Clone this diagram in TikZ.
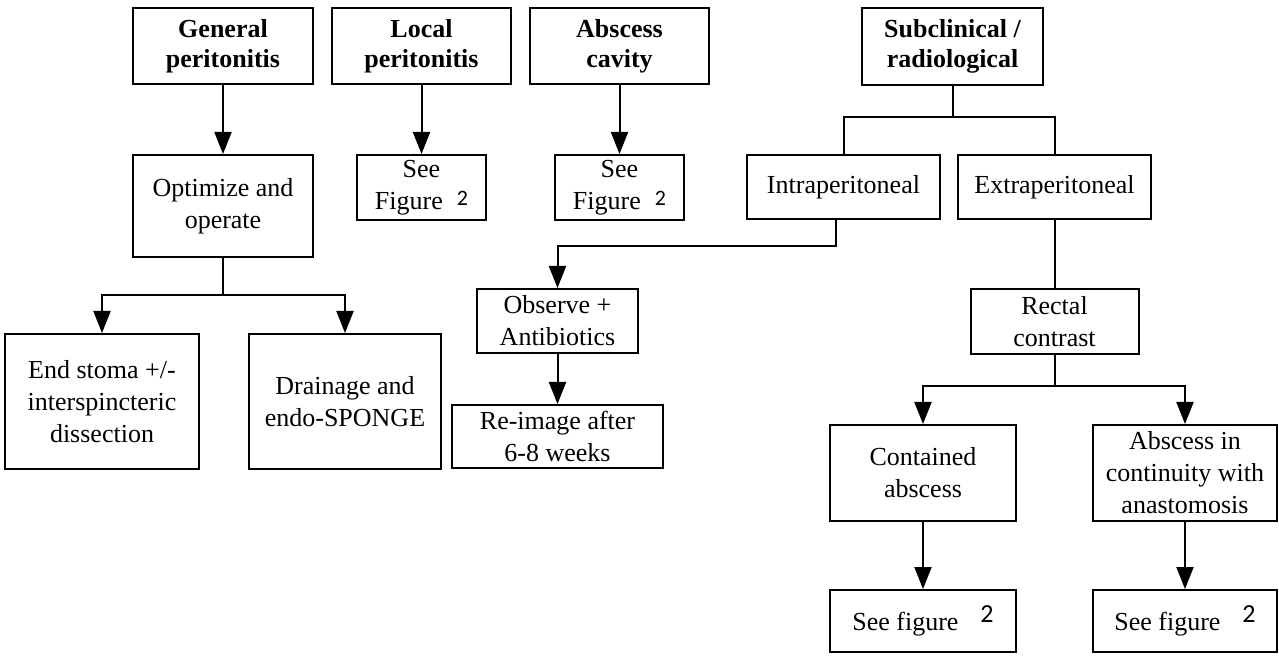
\documentclass[tikz,border=0pt]{standalone}
\usepackage{fontspec}
\setmainfont{Liberation Serif}
\newfontfamily\numfont{Carlito}
\usetikzlibrary{arrows.meta}

\newcommand{\fignum}[2]{\raisebox{#2}{\numfont\fontsize{#1}{#1}\selectfont 2}}

\begin{document}
\begin{tikzpicture}[x=0.5pt,y=-0.5pt,
    box/.style={draw, line width=1pt, align=center, inner sep=0pt,
        font=\fontsize{13}{16}\selectfont},
    head/.style={box, font=\fontsize{13}{15}\selectfont\bfseries},
    arr/.style={line width=1pt, -{Triangle[length=11pt,width=8.5pt]}},
    conn/.style={line width=1pt}]
  \useasboundingbox (0,0) rectangle (1279,657);

  \node (gen) [head, minimum width=90pt, minimum height=38pt] at (223,46) {General\\peritonitis};
  \node (loc) [head, minimum width=89.5pt, minimum height=38pt] at (421.5,46) {Local\\peritonitis};
  \node (cav) [head, minimum width=89.5pt, minimum height=38pt] at (619.5,46) {Abscess\\cavity};
  \node (sub) [head, minimum width=90.5pt, minimum height=38.5pt] at (952.5,46.5) {Subclinical /\\radiological};

  \node (opt) [box, minimum width=90pt, minimum height=51pt] at (223,206) {Optimize and\\operate};
  \node (seeloc) [box, minimum width=64.5pt, minimum height=32.5pt] at (421.5,187.5) {See\\Figure\hspace{7pt}\fignum{11}{2pt}};
  \node (seecav) [box, minimum width=64.5pt, minimum height=32.5pt] at (619.5,187.5) {See\\Figure\hspace{7pt}\fignum{11}{2pt}};
  \node (intra) [box, minimum width=96.5pt, minimum height=32pt] at (843.5,187) {Intraperitoneal};
  \node (extra) [box, minimum width=96.5pt, minimum height=32pt] at (1054.5,187) {Extraperitoneal};

  \node (stoma) [box, minimum width=97pt, minimum height=67.5pt] at (102,401.5) {End stoma +/-\\interspincteric\\dissection};
  \node (drain) [box, minimum width=96pt, minimum height=67.5pt] at (345,401.5) {Drainage and\\endo-SPONGE};
  \node (obs) [box, minimum width=80.5pt, minimum height=32pt] at (557.5,321) {Observe +\\Antibiotics};
  \node (reimg) [box, minimum width=105.5pt, minimum height=31.5pt] at (557.5,436.5) {Re-image after\\6-8 weeks};
  \node (rect) [box, minimum width=84pt, minimum height=32.5pt] at (1054.5,321.5) {Rectal\\contrast};

  \node (cont) [box, minimum width=93pt, minimum height=48pt] at (923,473) {Contained\\abscess};
  \node (anas) [box, minimum width=92pt, minimum height=48pt] at (1185,473) {Abscess in\\continuity with\\anastomosis};
  \node (seecont) [box, minimum width=93pt, minimum height=31pt] at (923,621) {See figure\hspace{11pt}\fignum{13}{4pt}};
  \node (seeanas) [box, minimum width=92pt, minimum height=31pt] at (1185,621) {See figure\hspace{11pt}\fignum{13}{4pt}};

  \coordinate (optsplit) at (223,295);
  \coordinate (subsplit) at (952.5,117);
  \coordinate (rectsplit) at (1054.5,386);

  \draw[arr] (gen) -- (opt);
  \draw[arr] (loc) -- (seeloc);
  \draw[arr] (cav) -- (seecav);

  \draw[conn] (opt) -- (optsplit);
  \draw[arr] (optsplit) -| (stoma);
  \draw[arr] (optsplit) -| (drain);

  \draw[conn] (sub) -- (subsplit);
  \draw[conn] (intra.north) |- (subsplit) -| (extra.north);

  \draw[arr] ([xshift=-3.75pt]intra.south) -- ++(0,26) -| (obs);
  \draw[arr] (obs) -- (reimg);

  \draw[conn] (extra) -- (rect);
  \draw[conn] (rect) -- (rectsplit);
  \draw[arr] (rectsplit) -| (cont);
  \draw[arr] (rectsplit) -| (anas);
  \draw[arr] (cont) -- (seecont);
  \draw[arr] (anas) -- (seeanas);
\end{tikzpicture}
\end{document}
